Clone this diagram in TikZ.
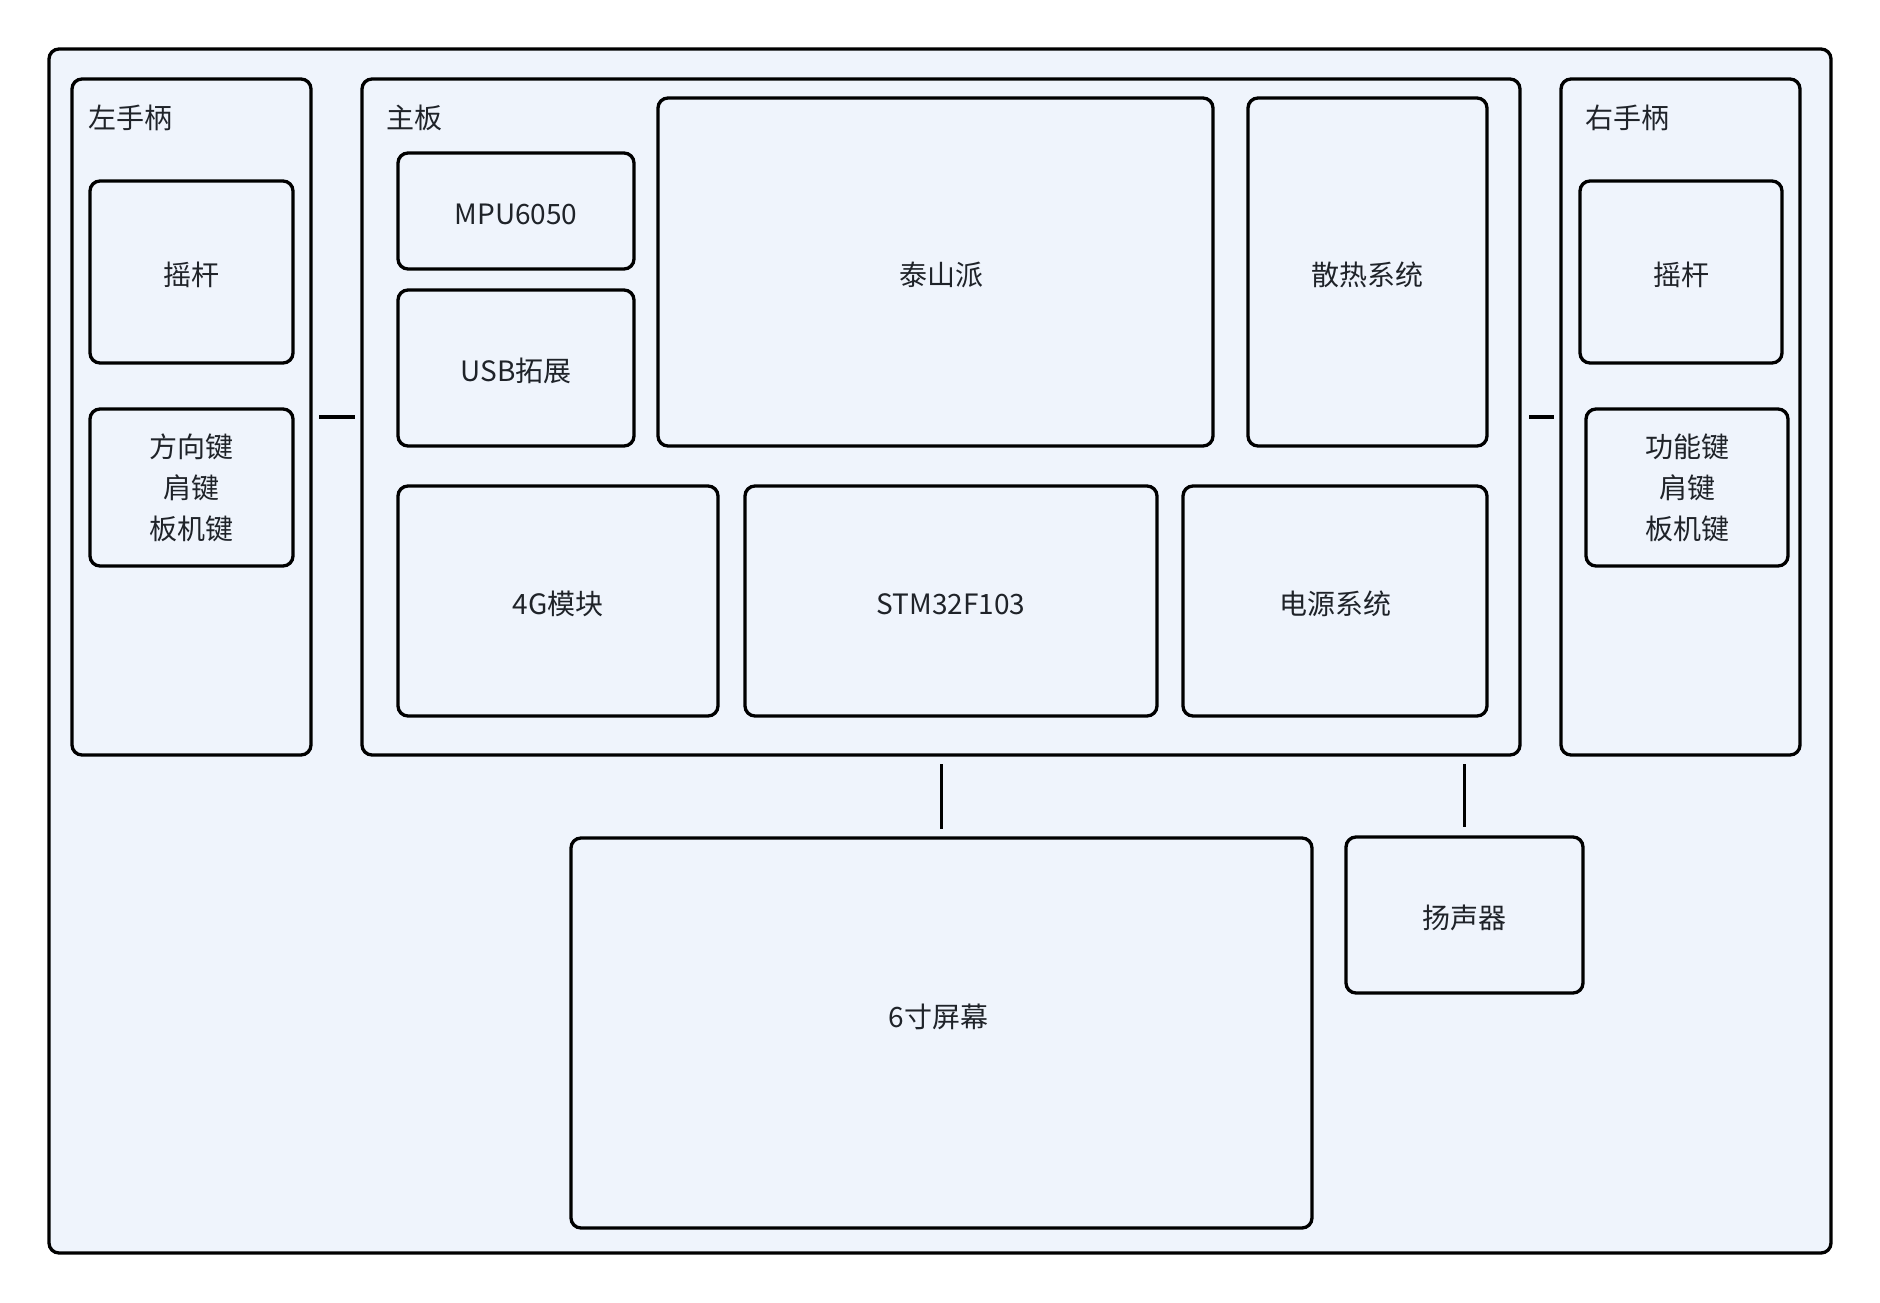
\documentclass[tikz,border=0pt]{standalone}
\usepackage{fontspec}
\setmainfont{Noto Sans CJK SC}
\usepackage{tikz}
\usetikzlibrary{positioning}
\definecolor{panelfill}{RGB}{239,244,252}
\definecolor{inkgray}{RGB}{31,35,41}

\begin{document}
\begin{tikzpicture}[x=1pt, y=-1pt,
	blk/.style={draw=black, line width=3.3pt, rounded corners=10pt, inner sep=0pt, outer sep=0pt, text=inkgray, align=center, font=\fontsize{28}{41}\selectfont},
	oneline/.style={text height=26pt, text depth=0pt},
	ttl/.style={text=inkgray, inner sep=0pt, font=\fontsize{28}{34}\selectfont},
	wire/.style={draw=black, line width=3.3pt}]
	
	\useasboundingbox (0,0) rectangle (1880,1302);
	
	\node [blk, fill=panelfill, minimum width=1782, minimum height=1204] (outer) at (940,651) {};
	
	% left handle
	\node [blk, minimum width=239, minimum height=676] (lhand) at (191.5,417) {};
	\node [ttl, anchor=west] (lhandtitle) at (88,118) {左手柄};
	\node [blk, oneline, minimum width=203, minimum height=182] (lstick) at (191.5,272) {摇杆};
	\node [blk, minimum width=203, minimum height=157] (lkeys) at (191.5,487.5) {方向键\\肩键\\板机键};
	
	% main board
	\node [blk, minimum width=1158, minimum height=676] (board) at (941,417) {};
	\node [ttl, anchor=west] (boardtitle) at (386,118) {主板};
	\node [blk, oneline, minimum width=236, minimum height=116] (mpu) at (516,211) {MPU6050};
	\node [blk, oneline, minimum width=236, minimum height=156] (usb) at (516,368) {USB拓展};
	\node [blk, oneline, minimum width=555, minimum height=348] (tspi) at (935.5,272) {\hspace*{11pt}泰山派};
	\node [blk, oneline, minimum width=239, minimum height=348] (cooling) at (1367.5,272) {散热系统};
	\node [blk, oneline, minimum width=320, minimum height=230] (lte) at (558,601) {4G模块};
	\node [blk, oneline, minimum width=412, minimum height=230] (stm) at (951,601) {STM32F103};
	\node [blk, oneline, minimum width=304, minimum height=230] (power) at (1335,601) {电源系统};
	
	% right handle
	\node [blk, minimum width=239, minimum height=676] (rhand) at (1680.5,417) {};
	\node [ttl, anchor=west] (rhandtitle) at (1585,118) {右手柄};
	\node [blk, oneline, minimum width=202, minimum height=182] (rstick) at (1681,272) {摇杆};
	\node [blk, minimum width=202, minimum height=157] (rkeys) at (1687,487.5) {功能键\\肩键\\板机键};
	
	% screen and speaker
	\node [blk, text height=26pt, text depth=37pt, minimum width=741, minimum height=390] (screen) at (941.5,1033) {6寸屏幕\hspace*{6pt}};
	\node [blk, oneline, minimum width=237, minimum height=156] (speaker) at (1464.5,915) {扬声器};
	
	\draw [wire] [shorten <=8pt, shorten >=7pt] (lhand.east) -- (board.west);
	\draw [wire] [shorten <=9pt, shorten >=7pt] (board.east) -- (rhand.west);
	\draw [wire] [shorten <=9pt, shorten >=9pt] (screen.north |- board.south) -- (screen.north);
	\draw [wire] [shorten <=9pt, shorten >=10pt] (speaker.north |- board.south) -- (speaker.north);
\end{tikzpicture}
\end{document}
